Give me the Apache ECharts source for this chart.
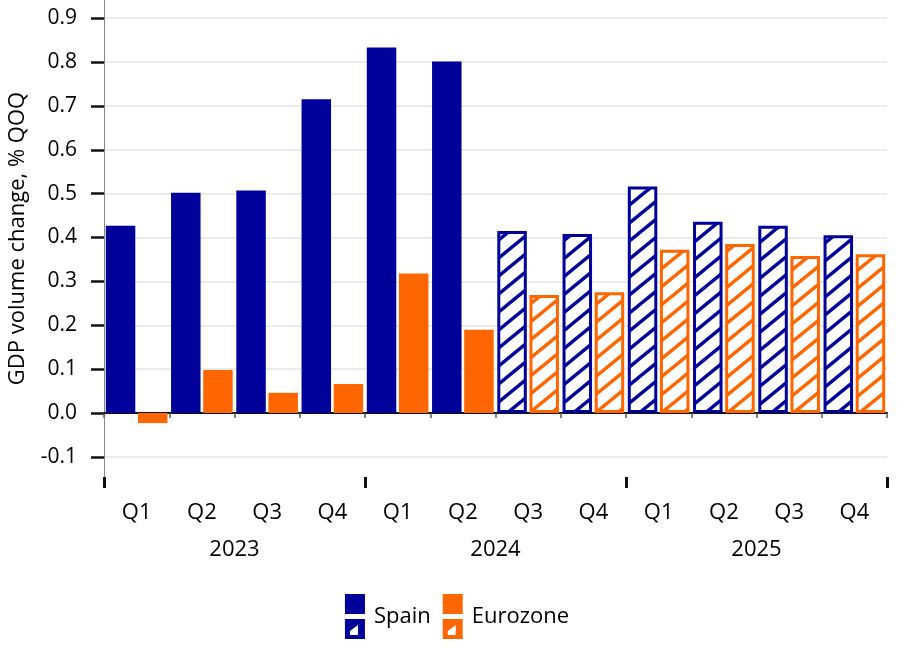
<!DOCTYPE html>
<html>
<head>
<meta charset="utf-8">
<script src="https://cdn.jsdelivr.net/npm/echarts@6/dist/echarts.min.js"></script>
<style>
html,body{margin:0;padding:0;background:#fff;}
#chart{width:914px;height:649px;}
</style>
</head>
<body>
<div id="chart"></div>
<script>
// ---- data ----
const quarters = ['Q1','Q2','Q3','Q4','Q1','Q2','Q3','Q4','Q1','Q2','Q3','Q4'];
const years = ['2023','2024','2025'];
const spain = [0.427,0.502,0.507,0.715,0.833,0.801,0.415,0.408,0.516,0.436,0.427,0.405];
const eurozone = [-0.023,0.098,0.046,0.066,0.318,0.190,0.269,0.275,0.372,0.385,0.358,0.362];
const forecast = [false,false,false,false,false,false,true,true,true,true,true,true];
const yTicks = [-0.1,0.0,0.1,0.2,0.3,0.4,0.5,0.6,0.7,0.8,0.9];

// ---- styling ----
const FONT = 'Open Sans';
const TXT = '#000';
const BLUE = '#00009a';
const ORANGE = '#ff6600';

function hatch(color){
  const W = 22, H = 18;
  const c = document.createElement('canvas');
  c.width = W; c.height = H;
  const g = c.getContext('2d');
  g.fillStyle = '#fff';
  g.fillRect(0,0,W,H);
  g.strokeStyle = color;
  g.lineWidth = 3.4;
  for (let k=-1;k<=1;k++){
    g.beginPath();
    g.moveTo(-2, H + k*H + 2*H/W);
    g.lineTo(W+2, k*H - 2*H/W);
    g.stroke();
  }
  return {image: c, repeat: 'repeat'};
}

function buildData(vals, color){
  const pat = hatch(color);
  return vals.map((v,i)=> forecast[i]
    ? {value: v, itemStyle: {color: pat, borderColor: color, borderWidth: 3}}
    : {value: v});
}

const iconPath = 'path://M0,0H20V20H0Z M0,25H20V45H0Z M5,37V41H13V31Z';

// plot geometry
const plotLeft = 104, plotRight = 27, plotTop = 0, plotBottomY = 477;
const pxPerUnit = 438.75, zeroY = 413;
const yMax = (zeroY - plotTop) / pxPerUnit;
const yMin = -(plotBottomY - zeroY) / pxPerUnit;
const gridTickTop = zeroY - 0.9*pxPerUnit;
const gridTickBottom = zeroY + 0.1*pxPerUnit;

const chart = echarts.init(document.getElementById('chart'), null, {renderer:'canvas'});
chart.setOption({
  animation: false,
  backgroundColor: '#fff',
  textStyle: {fontFamily: FONT},
  grid: [
    {left: plotLeft, right: plotRight, top: plotTop, bottom: 649 - plotBottomY, containLabel: false, outerBoundsMode: 'none'},
    {left: plotLeft, right: plotRight, top: gridTickTop, bottom: 649 - gridTickBottom, containLabel: false, outerBoundsMode: 'none'}
  ],
  legend: {
    left: 'center',
    top: 589,
    itemWidth: 20,
    itemHeight: 45,
    itemGap: 12,
    textStyle: {fontFamily: FONT, fontSize: 22, color: TXT, padding: [0,0,0,4]},
    data: [{name:'Spain', icon: iconPath}, {name:'Eurozone', icon: iconPath}]
  },
  xAxis: [
    {
      type: 'category', gridIndex: 0, data: quarters, position: 'bottom',
      axisLine: {show: true, lineStyle: {color: '#111', width: 2}},
      axisTick: {show: true, alignWithLabel: false, length: 5, lineStyle: {color: '#555', width: 1.5}},
      axisLabel: {fontFamily: FONT, fontSize: 22, color: TXT, margin: 25, interval: 0}
    },
    {
      type: 'category', gridIndex: 0, data: years, position: 'bottom',
      axisLine: {show: false},
      axisTick: {show: true, length: 11, lineStyle: {color: '#111', width: 3}},
      axisLabel: {fontFamily: FONT, fontSize: 22, color: TXT, margin: 62}
    },
    {
      type: 'category', gridIndex: 1, data: quarters, show: false
    }
  ],
  yAxis: [
    {
      type: 'value', gridIndex: 0, min: yMin, max: yMax,
      name: 'GDP volume change, % QOQ', nameLocation: 'middle', nameGap: 75, nameRotate: 90,
      nameTextStyle: {fontFamily: FONT, fontSize: 22, color: TXT},
      axisLine: {show: true, lineStyle: {color: '#888', width: 1}},
      axisTick: {show: false}, axisLabel: {show: false}, splitLine: {show: false}
    },
    {
      type: 'value', gridIndex: 1, min: yTicks[0], max: yTicks[yTicks.length-1], interval: 0.1,
      axisLine: {show: false},
      axisTick: {show: true, length: 13, lineStyle: {color: '#111', width: 2.5}},
      axisLabel: {fontFamily: FONT, fontSize: 21, color: TXT, margin: 27,
        formatter: v => (Math.abs(v) < 1e-9 ? 0 : v).toFixed(1)},
      splitLine: {show: true, lineStyle: {color: '#ebebeb', width: 2}}
    }
  ],
  series: [
    {
      name: 'Spain', type: 'bar', xAxisIndex: 0, yAxisIndex: 0,
      itemStyle: {color: BLUE},
      barWidth: 29.5, barGap: '9%',
      data: buildData(spain, BLUE)
    },
    {
      name: 'Eurozone', type: 'bar', xAxisIndex: 0, yAxisIndex: 0,
      itemStyle: {color: ORANGE},
      barWidth: 29.5, barGap: '9%',
      data: buildData(eurozone, ORANGE)
    }
  ]
});
</script>
</body>
</html>
